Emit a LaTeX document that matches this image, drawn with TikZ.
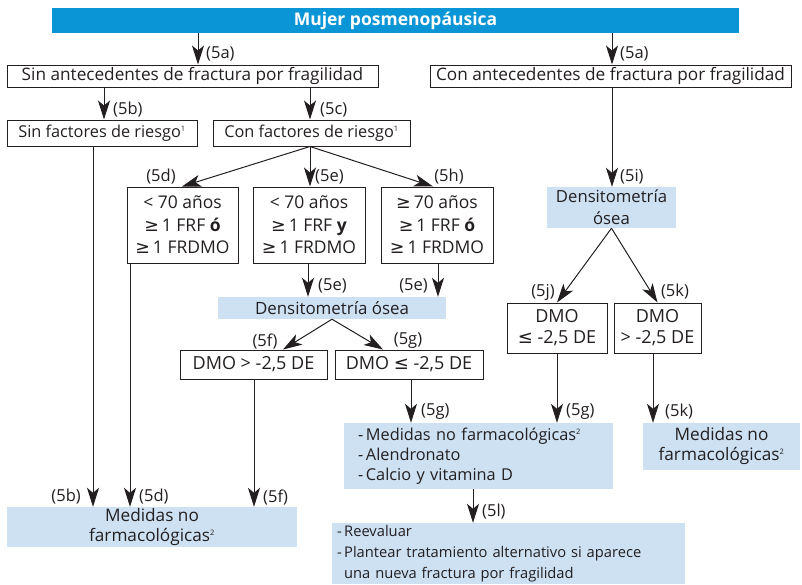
\documentclass[tikz,border=0pt]{standalone}
\usepackage{fontspec}
\setmainfont{Open Sans}
\newfontfamily\symf{DejaVu Sans}
\usetikzlibrary{arrows.meta,calc}
\definecolor{barblue}{HTML}{0A95D6}
\definecolor{lightblue}{HTML}{CDE1F3}
\definecolor{ink}{HTML}{231F20}
\newcommand{\geqs}{{\symf ≥}}
\newcommand{\leqs}{{\symf ≤}}
\newcommand{\fsz}[2]{\fontsize{#1}{#2}\selectfont}
\newcommand{\supr}[1]{\textsuperscript{\fontsize{7.5}{7.5}\selectfont #1}}
\tikzset{
  box/.style={draw=ink, line width=1pt, inner sep=0pt, align=center, text=ink},
  bluebox/.style={fill=lightblue, inner sep=0pt, text=ink},
  arr/.style={draw=ink, line width=1pt, -{Stealth[length=19pt,width=12pt,inset=5pt]}},
  lbl/.style={text=ink, inner sep=0pt, font=\fsz{16.5}{18}},
}
\begin{document}
\begin{tikzpicture}[x=1pt,y=-1pt, font=\fsz{16.5}{22}]
\useasboundingbox (0,0) rectangle (802,584);
% nodes
\node[fill=barblue, minimum width=687, minimum height=25, inner sep=0pt, text=white, font=\fsz{17.5}{18}\bfseries] (top) at (395.5,20.5) {Mujer posmenopáusica};
\node[box, minimum width=371, minimum height=22, font=\fsz{17.2}{18}] (sinante) at (192.5,76) {Sin antecedentes de fractura por fragilidad};
\node[box, minimum width=361, minimum height=22, font=\fsz{17.2}{18}] (conante) at (610.5,76) {Con antecedentes de fractura por fragilidad};
\node[box, minimum width=190, minimum height=26, font=\fsz{16.3}{18}] (sinfact) at (102,133) {Sin factores de riesgo\supr{1}};
\node[box, minimum width=197, minimum height=26, font=\fsz{16.3}{18}] (confact) at (311.5,133) {Con factores de riesgo\supr{1}};
\node[box, minimum width=111, minimum height=76, font=\fsz{17.5}{22.5}] (b1) at (182.5,225) {< 70 años\\\geqs\,1 FRF \textbf{ó}\\\geqs\,1 FRDMO};
\node[box, minimum width=112, minimum height=76, font=\fsz{17.5}{22.5}] (b2) at (309,225) {< 70 años\\\geqs\,1 FRF \textbf{y}\\\geqs\,1 FRDMO};
\node[box, minimum width=112, minimum height=76, font=\fsz{17.5}{22.5}] (b3) at (437,225) {\geqs\,70 años\\\geqs\,1 FRF \textbf{ó}\\\geqs\,1 FRDMO};
\node[bluebox, minimum width=228, minimum height=22, font=\fsz{16.9}{18}] (dens1) at (332,308) {Densitometría ósea};
\node[box, minimum width=147, minimum height=29, font=\fsz{18}{20}] (dmogt) at (253.5,364.5) {DMO > -2,5 DE};
\node[box, minimum width=148, minimum height=29, font=\fsz{18}{20}] (dmole) at (409,364.5) {DMO \leqs\ -2,5 DE};
\node[bluebox, minimum width=290, minimum height=40, align=center, font=\fsz{17.2}{20}] (med1) at (152,527) {Medidas no\\farmacológicas\supr{2}};
\node[bluebox, minimum width=255, minimum height=66, align=left, text width=241, inner xsep=14pt, font=\fsz{16.3}{20}] (med2) at (478.5,456) {-\,Medidas no farmacológicas\supr{2}\\-\,Alendronato\\-\,Calcio y vitamina D};
\node[bluebox, minimum width=353, minimum height=61, align=left, text width=343, inner xsep=5pt, font=\fsz{14.7}{21}] (reev) at (508.5,553.5) {-\,Reevaluar\\-\,Plantear tratamiento alternativo si aparece\\\hphantom{-\,}una nueva fractura por fragilidad};
\node[bluebox, minimum width=129, minimum height=41, align=center, font=\fsz{16.7}{22}] (dens2) at (611.5,207.5) {Densitometría\\ósea};
\node[box, minimum width=100, minimum height=50, font=\fsz{18}{21}] (dmole2) at (557,328) {DMO\\\leqs\ -2,5 DE};
\node[box, minimum width=87, minimum height=50, font=\fsz{18}{21}] (dmogt2) at (657.5,328) {DMO\\> -2,5 DE};
\node[bluebox, minimum width=157, minimum height=47, align=center, font=\fsz{17.2}{20}] (med3) at (721.5,446.5) {Medidas no\\farmacológicas\supr{2}};
% column coordinates
\coordinate (c198) at (198,0);
\coordinate (c612) at (612,0);
\coordinate (c104) at (104,0);
\coordinate (c310) at (310,0);
\coordinate (c308) at (308,0);
\coordinate (c438) at (438,0);
\coordinate (c254) at (254,0);
\coordinate (c93) at (93,0);
\coordinate (c130) at (130,0);
\coordinate (c411) at (411,0);
\coordinate (c557) at (557,0);
\coordinate (c653) at (653,0);
\coordinate (c473) at (473,0);
\coordinate (c283) at (283,0);
\coordinate (c383) at (383,0);
\coordinate (c182) at (182,0);
\coordinate (c433) at (433,0);
% arrows
\draw[arr] (top.south -| c198) -- (sinante.north -| c198);
\draw[arr] (top.south -| c612) -- (conante.north -| c612);
\draw[arr] (sinante.south -| c104) -- (sinfact.north -| c104);
\draw[arr] (sinante.south -| c310) -- (confact.north -| c310);
\draw[arr] (confact.south -| c310) -- (b1.north -| c182);
\draw[arr] (confact.south -| c310) -- (b2.north -| c310);
\draw[arr] (confact.south -| c310) -- (b3.north -| c433);
\draw[arr] (b2.south -| c308) -- (dens1.north -| c308);
\draw[arr] (b3.south -| c438) -- (dens1.north -| c438);
\draw[arr] (dens1.south) -- (dmogt.north -| c283);
\draw[arr] (dens1.south) -- (dmole.north -| c383);
\draw[arr] (sinfact.south -| c93) -- (med1.north -| c93);
\draw[arr] (b1.south -| c130) -- (med1.north -| c130);
\draw[arr] (dmogt.south -| c254) -- (med1.north -| c254);
\draw[arr] (dmole.south -| c411) -- (med2.north -| c411);
\draw[arr] (dmole2.south -| c557) -- (med2.north -| c557);
\draw[arr] (dmogt2.south -| c653) -- (med3.north -| c653);
\draw[arr] (med2.south -| c473) -- (reev.north -| c473);
\draw[arr] (conante.south -| c612) -- (dens2.north -| c612);
\draw[arr] (dens2.south) -- (dmole2.north);
\draw[arr] (dens2.south) -- (dmogt2.north);
% labels
\node[lbl, anchor=west] (l1) at (206,54) {(5a)};
\node[lbl, anchor=west] (l2) at (620,54) {(5a)};
\node[lbl, anchor=west] (l3) at (113,110) {(5b)};
\node[lbl, anchor=west] (l4) at (320,110) {(5c)};
\node[lbl] (l5) at (161,177) {(5d)};
\node[lbl, anchor=west] (l6) at (315,177) {(5e)};
\node[lbl] (l7) at (449,177) {(5h)};
\node[lbl, anchor=west] (l8) at (318,286) {(5e)};
\node[lbl, anchor=east] (l9) at (428,286) {(5e)};
\node[lbl] (l10) at (265,341) {(5f)};
\node[lbl] (l11) at (408,341) {(5g)};
\node[lbl, anchor=east] (l12) at (81,497) {(5b)};
\node[lbl, anchor=west] (l13) at (139,497) {(5d)};
\node[lbl, anchor=west] (l14) at (263,497) {(5f)};
\node[lbl, anchor=west] (l15) at (421,412) {(5g)};
\node[lbl, anchor=west] (l16) at (566,412) {(5g)};
\node[lbl, anchor=west] (l17) at (665,412) {(5k)};
\node[lbl, anchor=west] (l18) at (482,512) {(5l)};
\node[lbl, anchor=west] (l19) at (620,177) {(5i)};
\node[lbl] (l20) at (543,292) {(5j)};
\node[lbl] (l21) at (675,292) {(5k)};
\end{tikzpicture}
\end{document}
